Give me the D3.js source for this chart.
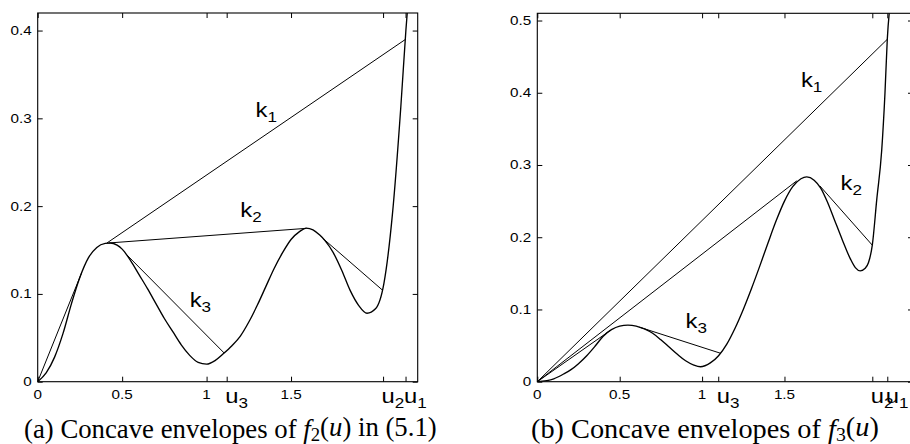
<!DOCTYPE html>
<html><head><meta charset="utf-8">
<script src="https://cdn.jsdelivr.net/npm/d3@7"></script>
<style>
body{margin:0;background:#fff}
svg{display:block}
.tick-lab{font-family:"Liberation Sans",Arial,sans-serif;font-size:12.5px;fill:#000}
.big-lab{font-family:"Liberation Sans",Arial,sans-serif;fill:#000}
.cap{font-family:"Liberation Serif","DejaVu Serif",serif;fill:#000}
</style></head>
<body>
<svg id="chart" width="910" height="444"></svg>
<script>
// ---------- data ----------
// Panel (a): f2(u)
const f2U = [0,0.05,0.1,0.15,0.2,0.25,0.3,0.35,0.4,0.43,0.47,0.5,0.55,0.6,0.65,0.7,0.75,0.8,0.85,0.9,0.95,1.0,1.05,1.1,1.15,1.2,1.25,1.3,1.35,1.4,1.45,1.5,1.55,1.59,1.63,1.67,1.7,1.75,1.8,1.85,1.9,1.95,2.0,2.05,2.1,2.15,2.18,2.2];
const f2Y = [0,0.010,0.028,0.055,0.089,0.119,0.141,0.153,0.1575,0.158,0.1555,0.151,0.138,0.122,0.106,0.089,0.072,0.057,0.042,0.030,0.022,0.020,0.024,0.032,0.041,0.052,0.068,0.087,0.108,0.129,0.147,0.162,0.171,0.175,0.173,0.167,0.161,0.147,0.127,0.104,0.087,0.078,0.083,0.112,0.19,0.313,0.40,0.45];
// envelope segments of f2 (pairs of [u, value])
const k0A = [[0,0],[0.26,0.124]];
const k1A = [[0.41,0.158],[2.178,0.39]];
const k2A = [[0.42,0.158],[1.592,0.1747]];
const k2bA = [[1.69,0.163],[2.041,0.1044]];
const k3A = [[0.52,0.146],[1.105,0.0325]];
const ticksXA = [0,0.5,1,1.119,1.5,2.045,2.178];
const tickLabXA = ["0","0.5","1","u3","1.5","u2","u1"];
const ticksYA = [0,0.1,0.2,0.3,0.4];
const tickLabYA = ["0","0.1","0.2","0.3","0.4"];

// Panel (b): f3(u)
const f3U = [0,0.1,0.167,0.2,0.25,0.3,0.35,0.4,0.45,0.5,0.55,0.6,0.65,0.7,0.75,0.8,0.85,0.9,0.95,0.99,1.05,1.1,1.15,1.2,1.25,1.3,1.35,1.4,1.45,1.5,1.55,1.6,1.635,1.68,1.72,1.76,1.8,1.85,1.9,1.93,1.96,1.99,2.01,2.033,2.06,2.09,2.11,2.124,2.145];
const f3Y = [0,0.004,0.0116,0.016,0.025,0.036,0.049,0.063,0.072,0.077,0.0784,0.077,0.073,0.067,0.058,0.048,0.038,0.029,0.023,0.0207,0.026,0.036,0.052,0.074,0.100,0.129,0.160,0.192,0.223,0.250,0.270,0.281,0.2836,0.279,0.268,0.249,0.226,0.197,0.170,0.158,0.1535,0.157,0.165,0.189,0.252,0.32,0.40,0.474,0.53];
const k0B = [[0,0],[0.44,0.0705]];
const k1B = [[0,0],[2.124,0.474]];
const k2B = [[0,0],[1.574,0.278]];
const k2bB = [[1.715,0.271],[2.033,0.189]];
const k3B = [[0.62,0.0755],[1.113,0.0393]];
const ticksXB = [0,0.5,1,1.098,1.5,2.033,2.124];
const tickLabXB = ["0","0.5","1","u3","1.5","u2","u1"];
const ticksYB = [0,0.1,0.2,0.3,0.4,0.5];
const tickLabYB = ["0","0.1","0.2","0.3","0.4","0.5"];

const kLabA = [{t:"k",s:"1",u:1.29,v:0.302},{t:"k",s:"2",u:1.20,v:0.188},{t:"k",s:"3",u:0.90,v:0.085}];
const kLabB = [{t:"k",s:"1",u:1.60,v:0.408},{t:"k",s:"2",u:1.84,v:0.265},{t:"k",s:"3",u:0.90,v:0.074}];

const svg = d3.select("#chart");
const SX = 1.22; // the source figure's lettering is stretched horizontally

function panel(cfg){
  const x = d3.scaleLinear().domain(cfg.xd).range(cfg.xr);
  const y = d3.scaleLinear().domain(cfg.yd).range(cfg.yr);
  const g = svg.append("g");
  const id = "clip" + cfg.name;
  svg.append("clipPath").attr("id", id).append("rect")
    .attr("x", cfg.xr[0]).attr("y", cfg.yr[1])
    .attr("width", cfg.xr[1]-cfg.xr[0]).attr("height", cfg.yr[0]-cfg.yr[1]);

  // axes with inward ticks
  const tl = 5;
  const gb = g.append("g").attr("transform",`translate(0,${cfg.yr[0]})`)
    .call(d3.axisBottom(x).tickValues(cfg.tx).tickSize(-tl).tickFormat(""));
  const gt = g.append("g").attr("transform",`translate(0,${cfg.yr[1]})`)
    .call(d3.axisTop(x).tickValues(cfg.tx).tickSize(-tl).tickFormat(""));
  const gl = g.append("g").attr("transform",`translate(${cfg.xr[0]},0)`)
    .call(d3.axisLeft(y).tickValues(cfg.ty).tickSize(-tl).tickFormat(""));
  const gr = g.append("g").attr("transform",`translate(${cfg.xr[1]},0)`)
    .call(d3.axisRight(y).tickValues(cfg.ty).tickSize(-tl).tickFormat(""));
  [gb,gt,gl,gr].forEach(a=>{
    a.select(".domain").remove();
    a.selectAll("line").attr("stroke","#000").attr("stroke-width",1);
  });
  // frame
  g.append("rect").attr("x",cfg.xr[0]).attr("y",cfg.yr[1])
    .attr("width",cfg.xr[1]-cfg.xr[0]).attr("height",cfg.yr[0]-cfg.yr[1])
    .attr("fill","none").attr("stroke","#000").attr("stroke-width",1.1);

  // y tick labels
  g.selectAll(".ylab").data(cfg.ty).enter().append("text")
    .attr("class","tick-lab")
    .attr("transform",d=>`translate(${cfg.xr[0]-6},${y(d)+4.5}) scale(${SX},1)`)
    .attr("text-anchor","end").text((d,i)=>cfg.tyl[i]);

  // x tick labels
  cfg.tx.forEach((v,i)=>{
    const lab = cfg.txl[i];
    if(lab[0]==="u"){
      const t = g.append("text").attr("class","big-lab")
        .attr("transform",`translate(${x(v)-1.5},${cfg.yr[0]+21.5}) scale(${SX},1)`)
        .attr("font-size",19.5);
      t.append("tspan").text("u");
      t.append("tspan").attr("font-size",14).attr("dy",5).text(lab.slice(1));
    } else {
      g.append("text").attr("class","tick-lab")
        .attr("transform",`translate(${x(v)},${cfg.yr[0]+17}) scale(${SX},1)`)
        .attr("text-anchor","middle").text(lab);
    }
  });

  const cg = g.append("g").attr("clip-path",`url(#${id})`);
  const lineF = d3.line().x(d=>x(d[0])).y(d=>y(d[1])).curve(d3.curveMonotoneX);
  const lineS = d3.line().x(d=>x(d[0])).y(d=>y(d[1]));
  cfg.segs.forEach(s=>{
    cg.append("path").attr("d",lineS(s)).attr("fill","none").attr("stroke","#000").attr("stroke-width",1);
  });
  const pts = cfg.fu.map((u,i)=>[u,cfg.fy[i]]);
  cg.append("path").attr("d",lineF(pts)).attr("fill","none").attr("stroke","#000").attr("stroke-width",1.35);

  // k labels
  cfg.kl.forEach(k=>{
    const t = g.append("text").attr("class","big-lab")
      .attr("transform",`translate(${x(k.u)},${y(k.v)}) scale(${SX},1)`).attr("font-size",19.5);
    t.append("tspan").text(k.t);
    t.append("tspan").attr("font-size",14).attr("dy",5).text(k.s);
  });

  // caption: font size chosen so the text spans the measured width
  const cap = svg.append("text").attr("class","cap").attr("x",cfg.cx).attr("y",437.5).attr("font-size",22);
  cfg.cap.forEach(p=>{
    const ts = cap.append("tspan").text(p.t);
    if(p.i) ts.attr("font-style","italic");
    if(p.sub) ts.attr("font-size","0.7em").attr("dy","0.2em");
    if(p.up) ts.attr("dy","-0.2em");
  });
  const len = cap.node().getComputedTextLength();
  cap.attr("font-size", 22*cfg.cw/len);
}

panel({name:"a", xd:[0,2.25], xr:[37.7,417.7], yd:[0,0.42], yr:[381.7,13],
  tx:ticksXA, txl:tickLabXA, ty:ticksYA, tyl:tickLabYA,
  fu:f2U, fy:f2Y, segs:[k0A,k1A,k2A,k2bA,k3A], kl:kLabA,
  cx:24, cw:413,
  cap:[{t:"(a) Concave envelopes of "},{t:"f",i:true},{t:"2",sub:true},{t:"(",up:true},{t:"u",i:true},{t:") in (5.1)"}]});

panel({name:"b", xd:[0,2.28], xr:[537.3,913], yd:[0,0.51], yr:[381.7,13.3],
  tx:ticksXB, txl:tickLabXB, ty:ticksYB, tyl:tickLabYB,
  fu:f3U, fy:f3Y, segs:[k0B,k1B,k2B,k2bB,k3B], kl:kLabB,
  cx:531, cw:348,
  cap:[{t:"(b) Concave envelopes of "},{t:"f",i:true},{t:"3",sub:true},{t:"(",up:true},{t:"u",i:true},{t:")"}]});
</script>
</body></html>
